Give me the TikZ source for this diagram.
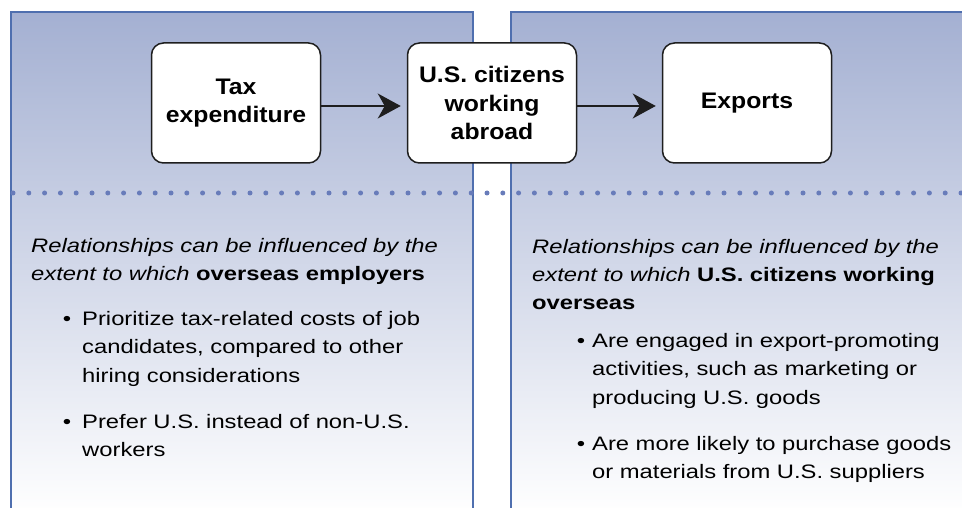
\documentclass[tikz,border=0pt]{standalone}
\usepackage{fontspec}
\setmainfont{Liberation Sans}[FakeStretch=1.22]
\newfontfamily\stagefont{Liberation Sans}[FakeStretch=1.1]
\usepackage{tikz}
\usetikzlibrary{arrows.meta}
\definecolor{paneltop}{RGB}{164,176,210}
\definecolor{paneledge}{RGB}{79,111,175}
\definecolor{dotblue}{RGB}{104,124,186}
\definecolor{boxline}{RGB}{30,30,30}

\begin{document}
\begin{tikzpicture}[x=1pt, y=-1pt,
	panel/.style={top color=paneltop, bottom color=white, draw=paneledge, line width=1.3pt},
	stage/.style={draw=boxline, fill=white, line width=1.5pt, rounded corners=12pt, minimum width=169pt, minimum height=120pt, align=center, font={\fontsize{22.5}{28.5}\selectfont\stagefont\bfseries}},
	flow/.style={-{Stealth[length=23pt, width=25pt, inset=7pt]}, line width=1.6pt, draw=boxline, shorten >=6pt},
	note/.style={anchor=base west, inner sep=0pt, text width=420pt, align=left, font={\fontsize{19.5}{28.5}\selectfont}},
	bulletmark/.style={anchor=base, inner sep=0pt, font={\fontsize{19.5}{28.5}\selectfont}}]
	\useasboundingbox (0,0) rectangle (962,508);
	
	\path[panel] (11,12) rectangle (473,515);
	\path[panel] (511,12) rectangle (975,515);
	\draw[dotblue, line width=5pt, line cap=round, dash pattern=on 0pt off 15.8pt] (13,193) -- (962,193);
	
	\node[stage] (tax) at (236,103) {Tax\\expenditure};
	\node[stage] (abroad) at (492,103) {U.S. citizens\\working\\abroad};
	\node[stage] (exports) at (747,103) {Exports};
	
	\draw[flow] ([yshift=-3pt]tax.east) -- ([yshift=-3pt]abroad.west);
	\draw[flow] ([yshift=-3pt]abroad.east) -- ([yshift=-3pt]exports.west);
	
	\node[note] (employers) at (31,252) {\textit{Relationships can be influenced by the}\\\textit{extent to which} \textbf{overseas employers}};
	\node[bulletmark] (dotA) at (67,325) {\textbullet};
	\node[note] (prioritize) at (82,325) {Prioritize tax-related costs of job\\candidates, compared to other\\hiring considerations};
	\node[bulletmark] (dotB) at (67,428) {\textbullet};
	\node[note] (prefer) at (82,428) {Prefer U.S. instead of non-U.S.\\workers};
	
	\node[note] (citizens) at (532,253) {\textit{Relationships can be influenced by the}\\\textit{extent to which} \textbf{U.S. citizens working}\\\textbf{overseas}};
	\node[bulletmark] (dotC) at (581,347) {\textbullet};
	\node[note] (engaged) at (592,347) {Are engaged in export-promoting\\activities, such as marketing or\\producing U.S. goods};
	\node[bulletmark] (dotD) at (581,450) {\textbullet};
	\node[note] (purchase) at (592,450) {Are more likely to purchase goods\\or materials from U.S. suppliers};
\end{tikzpicture}
\end{document}
